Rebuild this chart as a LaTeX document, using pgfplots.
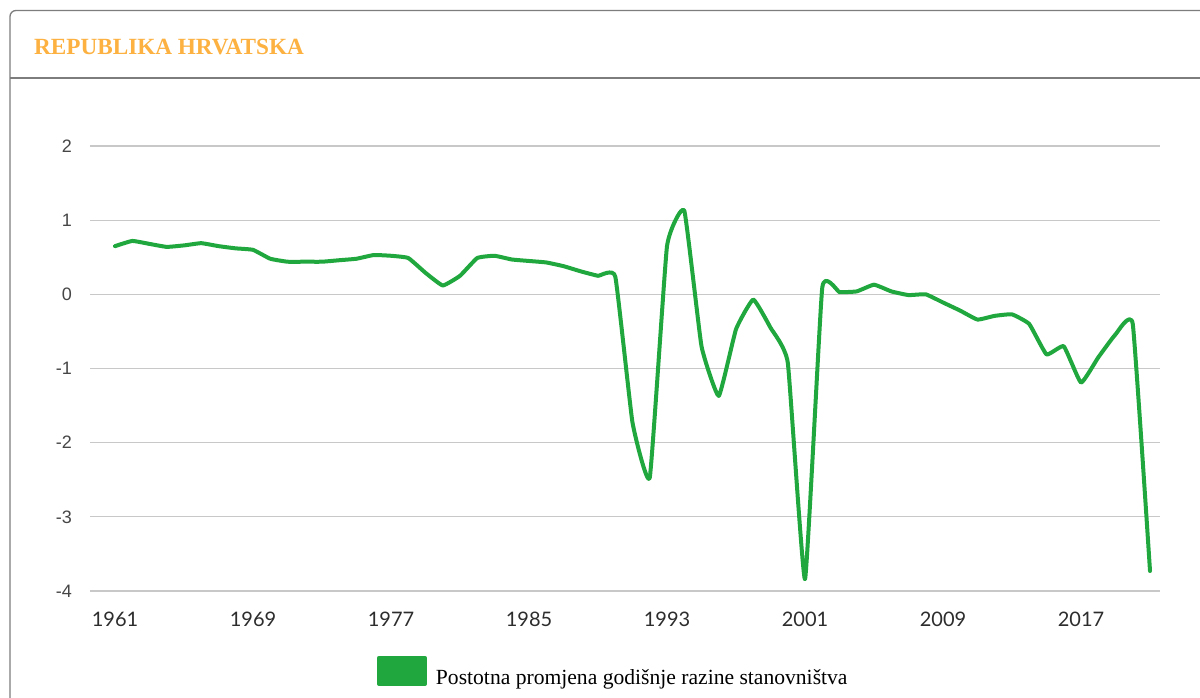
\documentclass[border=0pt]{standalone}
\usepackage{fontspec}
\setmainfont{Liberation Serif}
\newfontfamily\latofont{Lato}
\newfontfamily\arialfont{Liberation Sans}
\usepackage{pgfplots}
\pgfplotsset{compat=1.18}
\definecolor{lineg}{RGB}{32,168,62}
\definecolor{titleorange}{RGB}{252,177,64}
\definecolor{gridg}{RGB}{200,200,200}
\definecolor{frameg}{RGB}{125,125,125}
\definecolor{xlab}{RGB}{45,45,45}
\definecolor{ylab}{RGB}{70,70,70}

\begin{document}
\begin{tikzpicture}
\useasboundingbox (0pt,0pt) rectangle (1200pt,-697pt);
\fill[white] (0pt,0pt) rectangle (1200pt,-697pt);
\draw[frameg, line width=1.3pt] (1210pt,-10.5pt) -- (16pt,-10.5pt) arc[start angle=90,end angle=180,radius=6pt] -- (10pt,-710pt);
\draw[frameg, line width=1.3pt] (10pt,-78pt) -- (1210pt,-78pt);
\node[anchor=base west, inner sep=0pt, text=titleorange, font=\fontsize{23.2}{27}\selectfont\bfseries] at (34pt,-54pt) {REPUBLIKA HRVATSKA};
\begin{axis}[
  at={(90pt,-591pt)}, anchor=south west,
  scale only axis, width=1070pt, height=445pt,
  xmin=1959.55, xmax=2021.58, ymin=-4, ymax=2,
  clip=false,
  axis line style={draw=none},
  major tick length=0pt,
  xtick={1961,1969,1977,1985,1993,2001,2009,2017},
  xticklabels={1961,1969,1977,1985,1993,2001,2009,2017},
  ytick={-4,-3,-2,-1,0,1,2},
  yticklabels={-4,-3,-2,-1,0,1,2},
  ymajorgrids=true,
  major grid style={gridg, line width=1.3pt},
  xticklabel style={font=\latofont\fontsize{20}{24}\selectfont, text=xlab, inner sep=0pt, anchor=north, yshift=-20.5pt},
  yticklabel style={font=\arialfont\fontsize{18}{21}\selectfont, text=ylab, inner sep=0pt, anchor=east, xshift=-18pt},
  legend style={at={(0.2682,-0.1798)}, anchor=west, draw=none, fill=none, inner sep=0pt, outer sep=0pt, column sep=9pt, font=\fontsize{21.6}{25}\selectfont, nodes={inner sep=0pt}},
  legend image code/.code={\fill[lineg] (0pt,-6pt) rectangle (46pt,20pt);},
]
\addplot[lineg, line width=4pt, smooth, tension=0.22, line join=round, line cap=round] coordinates {
(1961,0.65) (1962,0.72) (1963,0.68) (1964,0.64) (1965,0.66) (1966,0.69) (1967,0.65) (1968,0.62) (1969,0.60) (1970,0.48)
(1971,0.44) (1972,0.44) (1973,0.44) (1974,0.46) (1975,0.48) (1976,0.53) (1977,0.52) (1978,0.49) (1979,0.29) (1980,0.12)
(1981,0.25) (1982,0.49) (1983,0.52) (1984,0.47) (1985,0.45) (1986,0.43) (1987,0.38) (1988,0.31) (1989,0.25) (1990,0.24)
(1991,-1.73) (1992,-2.47) (1993,0.65) (1994,1.13) (1995,-0.70) (1996,-1.37) (1997,-0.47) (1998,-0.07) (1999,-0.45) (2000,-0.92)
(2001,-3.84) (2002,0.09) (2003,0.03) (2004,0.04) (2005,0.13) (2006,0.04) (2007,-0.01) (2008,0.00) (2009,-0.11) (2010,-0.22)
(2011,-0.34) (2012,-0.29) (2013,-0.27) (2014,-0.40) (2015,-0.81) (2016,-0.70) (2017,-1.19) (2018,-0.85) (2019,-0.54) (2020,-0.40)
(2021,-3.73)
};
\addlegendentry{Postotna promjena godišnje razine stanovništva}
\end{axis}
\end{tikzpicture}
\end{document}
